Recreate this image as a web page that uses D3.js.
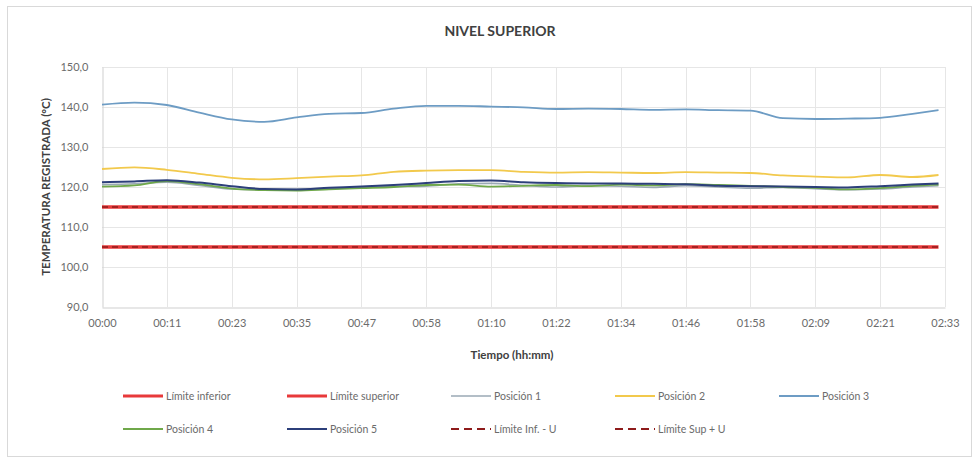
<!DOCTYPE html>
<html>
<head>
<meta charset="utf-8">
<script src="https://cdn.jsdelivr.net/npm/d3@7"></script>
<style>
  html, body { margin: 0; padding: 0; background: #ffffff; }
  svg { display: block; }
</style>
</head>
<body>
<svg id="chart" width="979" height="462"></svg>
<script>
// ---- data ----
const chartTitle = "NIVEL SUPERIOR";
const yAxisTitle = "TEMPERATURA REGISTRADA (°C)";
const xAxisTitle = "Tiempo (hh:mm)";
const tickLabels = ["00:00","00:11","00:23","00:35","00:47","00:58","01:10","01:22","01:34","01:46","01:58","02:09","02:21","02:33"];
const yTicks = [90, 100, 110, 120, 130, 140, 150];
// sample positions, in tick-interval units along the time axis
const samplePos = [0,0.5,1,1.5,2,2.5,3,3.5,4,4.5,5,5.5,6,6.5,7,7.5,8,8.5,9,9.5,10,10.5,11,11.5,12,12.5,12.9];
const limiteInferior = [105,105,105,105,105,105,105,105,105,105,105,105,105,105,105,105,105,105,105,105,105,105,105,105,105,105,105];
const limiteSuperior = [115,115,115,115,115,115,115,115,115,115,115,115,115,115,115,115,115,115,115,115,115,115,115,115,115,115,115];
const posicion1 = [120.6,120.8,121.2,120.4,119.5,119.3,119.4,119.6,119.9,120.1,120.2,120.8,120.9,120.4,120.0,120.3,120.2,119.9,120.3,120.0,119.7,119.9,119.6,119.3,119.5,120.0,120.3];
const posicion2 = [124.5,124.9,124.3,123.3,122.3,121.9,122.2,122.6,122.9,123.8,124.1,124.2,124.2,123.8,123.6,123.7,123.6,123.5,123.7,123.6,123.5,122.9,122.6,122.4,123.0,122.5,123.0];
const posicion3 = [140.6,141.1,140.5,138.6,136.9,136.3,137.4,138.3,138.5,139.6,140.3,140.3,140.1,139.9,139.5,139.6,139.5,139.3,139.4,139.2,139.1,137.2,137.0,137.1,137.3,138.3,139.2];
const posicion4 = [120.1,120.4,121.5,120.7,119.6,119.2,119.1,119.4,119.7,120.0,120.5,120.6,120.1,120.3,120.5,120.2,120.6,120.4,120.7,120.5,120.3,120.0,119.8,119.4,119.7,120.3,120.6];
const posicion5 = [121.2,121.4,121.7,121.1,120.2,119.5,119.4,119.8,120.1,120.5,121.0,121.5,121.6,121.2,121.0,120.9,120.9,120.8,120.7,120.3,120.2,120.1,120.0,119.9,120.2,120.6,120.9];
const limiteInfU = [105,105,105,105,105,105,105,105,105,105,105,105,105,105,105,105,105,105,105,105,105,105,105,105,105,105,105];
const limiteSupU = [115,115,115,115,115,115,115,115,115,115,115,115,115,115,115,115,115,115,115,115,115,115,115,115,115,115,115];

const seriesNames = ["Límite inferior","Límite superior","Posición 1","Posición 2","Posición 3","Posición 4","Posición 5","Límite Inf. - U","Límite Sup + U"];
const seriesValues = [limiteInferior, limiteSuperior, posicion1, posicion2, posicion3, posicion4, posicion5, limiteInfU, limiteSupU];
const seriesColors = ["#e8393a","#e8393a","#9aa9b4","#f2c94c","#6d9cc4","#6fa84a","#2c3f7a","#8e1b1b","#8e1b1b"];
const seriesWidths = [3.6, 3.6, 1.6, 1.8, 1.8, 1.8, 2, 1.6, 1.6];
const seriesDash = [null, null, null, null, null, null, null, "6,4", "6,4"];

// ---- layout ----
const svg = d3.select("#chart");
const font = "Lato, 'Open Sans', 'Liberation Sans', sans-serif";
const plot = { left: 102, right: 945, top: 67, bottom: 307 };

// chart border
svg.append("rect").attr("x", 7.5).attr("y", 6.5).attr("width", 964).attr("height", 450)
  .attr("fill", "#fff").attr("stroke", "#d9d9d9");

const x = d3.scaleLinear().domain([0, tickLabels.length - 1]).range([plot.left, plot.right]);
const y = d3.scaleLinear().domain([90, 150]).range([plot.bottom, plot.top]);

// gridlines
svg.append("g").selectAll("line").data(yTicks.slice(1)).join("line")
  .attr("x1", plot.left).attr("x2", plot.right)
  .attr("y1", d => Math.round(y(d)) + 0.5).attr("y2", d => Math.round(y(d)) + 0.5)
  .attr("stroke", "#e6e6e6").attr("stroke-width", 1);
svg.append("g").selectAll("line").data(d3.range(1, tickLabels.length)).join("line")
  .attr("x1", d => Math.round(x(d)) + 0.5).attr("x2", d => Math.round(x(d)) + 0.5)
  .attr("y1", plot.top).attr("y2", plot.bottom)
  .attr("stroke", "#e6e6e6").attr("stroke-width", 1);

// axes
const xAxis = d3.axisBottom(x).tickValues(d3.range(tickLabels.length))
  .tickFormat(i => tickLabels[i]).tickSize(0).tickPadding(12);
const gx = svg.append("g").attr("transform", `translate(0,${plot.bottom + 0.5})`).call(xAxis);
gx.select(".domain").attr("stroke", "#cfcfcf");
gx.selectAll("text").attr("fill", "#6b6b6b").style("font-family", font).style("font-size", "11px");

const fmt = d => d.toFixed(1).replace(".", ",");
const yAxis = d3.axisLeft(y).tickValues(yTicks).tickFormat(fmt).tickSize(0).tickPadding(14);
const gy = svg.append("g").attr("transform", `translate(${plot.left + 0.5},0)`).call(yAxis);
gy.select(".domain").attr("stroke", "#cfcfcf");
gy.selectAll("text").attr("fill", "#6b6b6b").style("font-family", font).style("font-size", "11px");

// lines
const line = d3.line().x((d, i) => x(samplePos[i])).y(d => y(d)).curve(d3.curveMonotoneX);
seriesValues.forEach((vals, k) => {
  svg.append("path").datum(vals)
    .attr("d", line)
    .attr("fill", "none")
    .attr("stroke", seriesColors[k])
    .attr("stroke-width", seriesWidths[k])
    .attr("stroke-dasharray", seriesDash[k])
    .attr("stroke-linejoin", "round");
});

// titles
svg.append("text").attr("x", 500).attr("y", 36).attr("text-anchor", "middle")
  .style("font-family", font).style("font-size", "14px").style("font-weight", "bold")
  .attr("fill", "#404040").text(chartTitle);
svg.append("text").attr("transform", "translate(50,187) rotate(-90)").attr("text-anchor", "middle")
  .style("font-family", font).style("font-size", "11.5px").style("font-weight", "bold")
  .attr("fill", "#404040").text(yAxisTitle);
svg.append("text").attr("x", 512).attr("y", 359).attr("text-anchor", "middle")
  .style("font-family", font).style("font-size", "11.5px").style("font-weight", "bold")
  .attr("fill", "#404040").text(xAxisTitle);

// legend
const legendX0 = 123, legendDX = 164, legendRows = [396, 429];
const legendOrder = [0, 1, 2, 3, 4, 5, 6, 7, 8];
const lg = svg.append("g");
legendOrder.forEach((k, n) => {
  const row = n < 5 ? 0 : 1;
  const col = n < 5 ? n : n - 5;
  const gx0 = legendX0 + col * legendDX, gy0 = legendRows[row];
  lg.append("line").attr("x1", gx0).attr("x2", gx0 + 40).attr("y1", gy0).attr("y2", gy0)
    .attr("stroke", seriesColors[k]).attr("stroke-width", seriesDash[k] ? 2 : Math.min(seriesWidths[k], 2.8))
    .attr("stroke-dasharray", seriesDash[k] ? "8,5" : null);
  lg.append("text").attr("x", gx0 + 43).attr("y", gy0 + 4)
    .style("font-family", font).style("font-size", "10.5px").attr("fill", "#6b6b6b")
    .text(seriesNames[k]);
});
</script>
</body>
</html>
